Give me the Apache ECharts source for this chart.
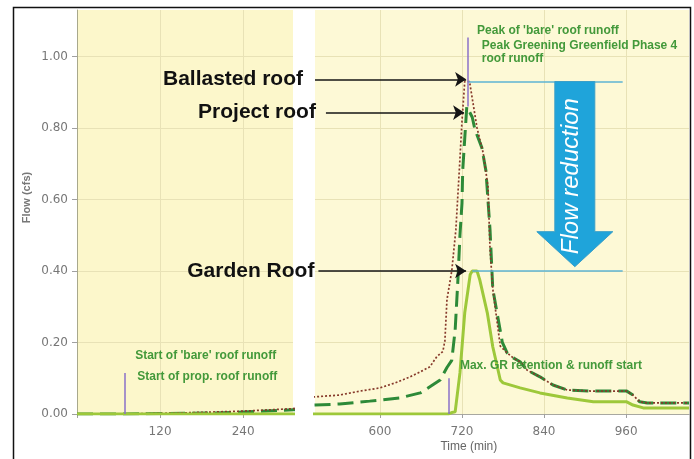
<!DOCTYPE html>
<html>
<head>
<meta charset="utf-8">
<script src="https://cdn.jsdelivr.net/npm/echarts@6/dist/echarts.min.js"></script>
<style>
  html, body { margin: 0; padding: 0; background: #ffffff; }
  #chart { width: 694px; height: 459px; }
</style>
</head>
<body>
<div id="chart"></div>
<script>
// Roof runoff hydrographs: [time (min), flow (cfs)]
const ballastedRoof = [
  [0, 0], [69, 0], [150, 0.003], [240, 0.008], [312, 0.015],
  [505, 0.048], [541, 0.053], [571, 0.064], [600, 0.073], [622, 0.087], [644, 0.104],
  [659, 0.118], [673, 0.132], [683, 0.16], [692, 0.175], [695, 0.205], [698, 0.32],
  [705, 0.40], [711, 0.515], [716, 0.68], [720, 0.82], [724, 0.93], [731, 0.93],
  [742, 0.80], [751, 0.73], [758, 0.636], [761, 0.46], [765, 0.35], [776, 0.19],
  [786, 0.171], [795, 0.157], [805, 0.146], [815, 0.123], [834, 0.104], [853, 0.081],
  [874, 0.067], [912, 0.064], [961, 0.064], [970, 0.053], [980, 0.034], [991, 0.031],
  [1052, 0.031]
];
const projectRoof = [
  [0, 0], [69, 0], [200, 0.003], [260, 0.007], [312, 0.012],
  [505, 0.025], [541, 0.028], [585, 0.036], [629, 0.045], [659, 0.059], [673, 0.076],
  [688, 0.095], [698, 0.13], [705, 0.15], [710, 0.235], [714, 0.375], [717, 0.50],
  [720, 0.59], [721, 0.68], [724, 0.77], [727, 0.86], [735, 0.83], [739, 0.795],
  [749, 0.745], [755, 0.68], [761, 0.515], [765, 0.35], [779, 0.20],
  [786, 0.171], [795, 0.157], [805, 0.146], [815, 0.123], [834, 0.104], [853, 0.081],
  [874, 0.067], [912, 0.064], [961, 0.064], [970, 0.053], [980, 0.034], [991, 0.031],
  [1052, 0.031]
];
const gardenRoof = [
  [0, 0], [312, 0], [505, 0], [700, 0], [705, 0.004], [710, 0.006], [717, 0.115],
  [724, 0.283], [732, 0.39], [735, 0.40], [742, 0.40], [746, 0.375], [757, 0.283],
  [765, 0.188], [776, 0.095], [780, 0.087], [805, 0.073], [834, 0.059], [874, 0.045],
  [912, 0.034], [961, 0.034], [970, 0.025], [985, 0.017], [1052, 0.017]
];

// Peak flows called out on the chart
const ballastedPeak = 0.93;
const projectPeak = 0.86;
const gardenPeak = 0.40;

// Axis ticks
const flowTicks = [0, 0.2, 0.4, 0.6, 0.8, 1.0];
const earlyTimeTicks = [120, 240];
const lateTimeTicks = [600, 720, 840, 960];

// Event times (min)
const startOfRunoff = 69;
const maxRetention = 700;
const peakTime = 729;

const FONT = '"Liberation Sans", Arial, sans-serif';
const TICK_FONT = '"DejaVu Sans", Verdana, sans-serif';
const GRID_LINE = '#e8e2b6';
const NOTE_GREEN = '#43993a';
const PURPLE = '#8a70c8';
const CYAN = '#5db3d3';

const chart = echarts.init(document.getElementById('chart'), null, { renderer: 'canvas' });

function flowAxis(gridIndex, withLabels) {
  return {
    type: 'value', gridIndex, min: 0, max: 1.13,
    axisLine: { show: withLabels, lineStyle: { color: '#a8a88c', width: 1 } },
    axisTick: { show: withLabels, customValues: flowTicks, length: 5, lineStyle: { color: '#a0a0a0' } },
    axisLabel: {
      show: withLabels, customValues: flowTicks, margin: 9,
      formatter: v => v.toFixed(2), color: '#777', fontSize: 12, fontFamily: TICK_FONT
    },
    splitLine: { show: true, lineStyle: { color: GRID_LINE, width: 1 } }
  };
}

function timeAxis(gridIndex, min, max, labels, ticks) {
  return {
    type: 'value', gridIndex, min, max,
    axisLine: { show: true, onZero: false, lineStyle: { color: '#a8a8a0', width: 1 } },
    axisTick: { show: true, customValues: ticks, length: 4, lineStyle: { color: '#a0a0a0' } },
    axisLabel: { customValues: labels, color: '#777', fontSize: 12, fontFamily: TICK_FONT, margin: 12 },
    splitLine: { show: true, lineStyle: { color: GRID_LINE, width: 1 } }
  };
}

function roofSeries(gridIndex, name, data, style, extra) {
  return Object.assign({
    type: 'line', name, data, xAxisIndex: gridIndex, yAxisIndex: gridIndex,
    showSymbol: false, symbol: 'none', clip: true, animation: false,
    lineStyle: style
  }, extra || {});
}

const ballastedStyle = { color: '#86392a', width: 1.7, type: [2, 2] };
const projectStyle = { color: '#2d8a38', width: 3, type: [16, 7] };
const gardenStyle = { color: '#9dc83a', width: 3 };

const labelArrows = {
  silent: true, animation: false,
  symbol: ['none', 'arrow'], symbolSize: 11,
  lineStyle: { color: '#151515', width: 1.6, type: 'solid' },
  label: {
    show: true, position: 'start', formatter: '{b}', distance: 7,
    color: '#111', fontSize: 21, fontWeight: 'bold', fontFamily: FONT
  },
  data: [
    [{ name: 'Ballasted roof', coord: [505, 0.936], label: { distance: 12 } }, { coord: [726, 0.936] }],
    [{ name: 'Project roof', coord: [521, 0.843], label: { distance: 10 } }, { coord: [723, 0.843] }],
    [{ name: 'Garden Roof', coord: [510, gardenPeak], label: { distance: 4 } }, { coord: [726, gardenPeak] }]
  ]
};

const guideLines = {
  silent: true, animation: false, symbol: ['none', 'none'],
  label: { show: false },
  data: [
    [{ coord: [peakTime, ballastedPeak], lineStyle: { color: CYAN, width: 1.5, type: 'solid' } },
     { coord: [955, ballastedPeak] }],
    [{ coord: [735, gardenPeak], lineStyle: { color: CYAN, width: 1.5, type: 'solid' } },
     { coord: [955, gardenPeak] }],
    [{ coord: [maxRetention, 0], lineStyle: { color: PURPLE, width: 1.5, type: 'solid' } },
     { coord: [maxRetention, 0.10] }],
    [{ coord: [peakTime, projectPeak], lineStyle: { color: PURPLE, width: 1.5, type: 'solid' } },
     { coord: [peakTime, 1.053] }]
  ]
};

const startLine = {
  silent: true, animation: false, symbol: ['none', 'none'],
  label: { show: false },
  lineStyle: { color: PURPLE, width: 1.5, type: 'solid' },
  data: [[{ coord: [startOfRunoff, 0] }, { coord: [startOfRunoff, 0.115] }]]
};

chart.setOption({
  animation: false,
  backgroundColor: '#ffffff',
  grid: [
    { left: 77, top: 10, width: 216, height: 404, show: true, backgroundColor: '#fcf7cb', borderWidth: 0 },
    { left: 315, top: 10, width: 374, height: 404, show: true, backgroundColor: '#fdf9d6', borderWidth: 0 }
  ],
  xAxis: [
    timeAxis(0, 0, 312, earlyTimeTicks, [0].concat(earlyTimeTicks)),
    timeAxis(1, 505, 1052, lateTimeTicks, lateTimeTicks)
  ],
  yAxis: [flowAxis(0, true), flowAxis(1, false)],
  series: [
    roofSeries(0, 'Project roof', projectRoof, projectStyle),
    roofSeries(0, 'Ballasted roof', ballastedRoof, ballastedStyle),
    roofSeries(0, 'Garden Roof', gardenRoof, gardenStyle, { markLine: startLine }),
    roofSeries(1, 'Project roof', projectRoof, projectStyle),
    roofSeries(1, 'Ballasted roof', ballastedRoof, ballastedStyle, { markLine: labelArrows }),
    roofSeries(1, 'Garden Roof', gardenRoof, gardenStyle, { markLine: guideLines })
  ]
});

// Annotations placed from data coordinates
const at = (grid, t, v) => chart.convertToPixel({ gridIndex: grid }, [t, v]);

const notes = [
  { grid: 0, t: 84, v: 0.162, text: "Start of 'bare' roof runoff" },
  { grid: 0, t: 87, v: 0.104, text: 'Start of prop. roof runoff' },
  { grid: 1, t: 742, v: 1.073, text: "Peak of 'bare' roof runoff" },
  { grid: 1, t: 749, v: 1.031, text: 'Peak Greening Greenfield Phase 4' },
  { grid: 1, t: 749, v: 0.994, text: 'roof runoff' },
  { grid: 1, t: 717, v: 0.134, text: 'Max. GR retention & runoff start' }
];

const graphics = notes.map(n => {
  const p = at(n.grid, n.t, n.v);
  return {
    type: 'text', x: p[0], y: p[1], z: 50, silent: true,
    style: {
      text: n.text, fill: NOTE_GREEN, font: 'bold 12px ' + FONT,
      align: 'left', verticalAlign: 'middle'
    }
  };
});

// Flow reduction arrow between the two peak levels
const arrowTime = 885;
const arrowTop = at(1, arrowTime, ballastedPeak);
const arrowNeck = at(1, arrowTime, 0.51);
const arrowTip = at(1, arrowTime, 0.412);
const cx = arrowTop[0];
graphics.push({
  type: 'polygon', z: 40, silent: true,
  shape: { points: [
    [cx - 20, arrowTop[1]], [cx + 20, arrowTop[1]], [cx + 20, arrowNeck[1]], [cx + 38, arrowNeck[1]],
    [cx, arrowTip[1]], [cx - 38, arrowNeck[1]], [cx - 20, arrowNeck[1]]
  ] },
  style: { fill: '#1fa4da', stroke: '#3b9fc8', lineWidth: 1 }
});
graphics.push({
  type: 'text', x: cx - 3, y: (arrowTop[1] + arrowTip[1]) / 2 + 2, rotation: Math.PI / 2, z: 41, silent: true,
  style: {
    text: 'Flow reduction', fill: '#ffffff', font: 'italic 24px ' + FONT,
    align: 'center', verticalAlign: 'middle'
  }
});

// Axis titles
const timeTitleAt = at(1, 730, 0);
graphics.push({
  type: 'text', x: timeTitleAt[0], y: timeTitleAt[1] + 33, z: 50, silent: true,
  style: { text: 'Time (min)', fill: '#666', font: '12px ' + FONT, align: 'center', verticalAlign: 'middle' }
});
const flowTitleAt = at(0, 0, 0.6);
graphics.push({
  type: 'text', x: 27, y: flowTitleAt[1] - 2, rotation: Math.PI / 2, z: 50, silent: true,
  style: { text: 'Flow (cfs)', fill: '#777', font: 'bold 11px ' + FONT, align: 'center', verticalAlign: 'middle' }
});

// Outer frame
graphics.push({
  type: 'rect', z: 60, silent: true,
  shape: { x: 13.5, y: 7.5, width: 677, height: 455 },
  style: { fill: 'none', stroke: '#111', lineWidth: 1.5 }
});

chart.setOption({ graphic: graphics });
</script>
</body>
</html>
